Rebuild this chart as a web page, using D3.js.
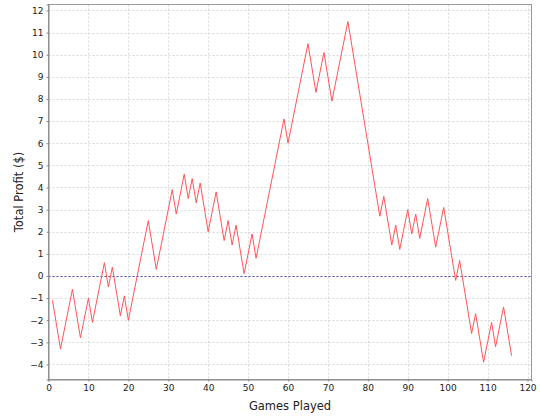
<!DOCTYPE html>
<html>
<head>
<meta charset="utf-8">
<script src="https://cdn.jsdelivr.net/npm/d3@7"></script>
<style>
  html, body { margin: 0; padding: 0; background: #fff; }
  svg { display: block; }
</style>
</head>
<body>
<svg id="chart" width="540" height="420"></svg>
<script>
// Data: vertices of the cumulative profit line (game number, total profit in $)
const games  = [1, 3, 6, 8, 10, 11, 14, 15, 16, 18, 19, 20, 25, 27, 31, 32, 34, 35, 36, 37, 38, 40, 42, 44, 45, 46, 47, 49, 51, 52, 59, 60, 65, 67, 69, 71, 75, 83, 84, 86, 87, 88, 90, 91, 92, 93, 95, 97, 99, 102, 103, 106, 107, 109, 111, 112, 114, 116];
const profit = [-1.1, -3.3, -0.6, -2.8, -1.0, -2.1, 0.6, -0.5, 0.4, -1.8, -0.9, -2.0, 2.5, 0.3, 3.9, 2.8, 4.6, 3.5, 4.4, 3.3, 4.2, 2.0, 3.8, 1.6, 2.5, 1.4, 2.3, 0.1, 1.9, 0.8, 7.1, 6.0, 10.5, 8.3, 10.1, 7.9, 11.5, 2.7, 3.6, 1.4, 2.3, 1.2, 3.0, 1.9, 2.8, 1.7, 3.5, 1.3, 3.1, -0.2, 0.7, -2.6, -1.7, -3.9, -2.1, -3.2, -1.4, -3.6];
const xTicks = [0, 10, 20, 30, 40, 50, 60, 70, 80, 90, 100, 110, 120];
const yTicks = [-4, -3, -2, -1, 0, 1, 2, 3, 4, 5, 6, 7, 8, 9, 10, 11, 12];
const xTitle = "Games Played";
const yTitle = "Total Profit ($)";

(function () {
const svg = d3.select("#chart");
const pLeft = 48.5, pRight = 531.5, pTop = 4.5, pBottom = 379.5;

const x = d3.scaleLinear().domain([0, 121]).range([pLeft, pRight]);
const y = d3.scaleLinear().domain([-4.68, 12.27]).range([pBottom, pTop]);

const font = "'DejaVu Sans', sans-serif";

// grid lines
const grid = svg.append("g");
grid.selectAll("line.gx").data(xTicks.filter(d => d > 0)).join("line")
  .attr("x1", d => Math.round(x(d)) + 0.5).attr("x2", d => Math.round(x(d)) + 0.5)
  .attr("y1", pTop).attr("y2", pBottom)
  .attr("stroke", "#d9d9d9").attr("stroke-width", 1).attr("stroke-dasharray", "2,2");
grid.selectAll("line.gy").data(yTicks).join("line")
  .attr("x1", pLeft).attr("x2", pRight)
  .attr("y1", d => Math.round(y(d)) + 0.5).attr("y2", d => Math.round(y(d)) + 0.5)
  .attr("stroke", "#d9d9d9").attr("stroke-width", 1).attr("stroke-dasharray", "2,2");

// zero marker line
svg.append("line")
  .attr("x1", pLeft).attr("x2", pRight)
  .attr("y1", Math.round(y(0)) + 0.5).attr("y2", Math.round(y(0)) + 0.5)
  .attr("stroke", "#4a4aa8").attr("stroke-width", 1).attr("stroke-dasharray", "2,2");

// plot outline
svg.append("rect").attr("x", pLeft).attr("y", pTop)
  .attr("width", pRight - pLeft).attr("height", pBottom - pTop)
  .attr("fill", "none").attr("stroke", "#999").attr("stroke-width", 1);

// axes
const xAxis = d3.axisBottom(x).tickValues(xTicks).tickSize(2).tickPadding(3).tickFormat(d3.format("d"));
const yAxis = d3.axisLeft(y).tickValues(yTicks).tickSize(2).tickPadding(3).tickFormat(d3.format("d"));

const gx = svg.append("g").attr("transform", `translate(0,${pBottom})`).call(xAxis);
const gy = svg.append("g").attr("transform", `translate(${pLeft},0)`).call(yAxis);
[gx, gy].forEach(g => {
  g.select(".domain").attr("stroke", "#888");
  g.selectAll(".tick line").attr("stroke", "#888");
  g.selectAll(".tick text").attr("fill", "#222").style("font-family", font).style("font-size", "9px");
});

// line
const line = d3.line().x((d, i) => x(games[i])).y((d, i) => y(profit[i]));
svg.append("path").datum(profit)
  .attr("d", line)
  .attr("fill", "none").attr("stroke", "#ff5555").attr("stroke-width", 1);

// titles
svg.append("text").attr("x", (pLeft + pRight) / 2).attr("y", 410)
  .attr("text-anchor", "middle").style("font-family", font).style("font-size", "11.5px")
  .attr("fill", "#222").text(xTitle);
svg.append("text").attr("transform", `translate(23,${(pTop + pBottom) / 2}) rotate(-90)`)
  .attr("text-anchor", "middle").style("font-family", font).style("font-size", "11.5px")
  .attr("fill", "#222").text(yTitle);
})();
</script>
</body>
</html>
